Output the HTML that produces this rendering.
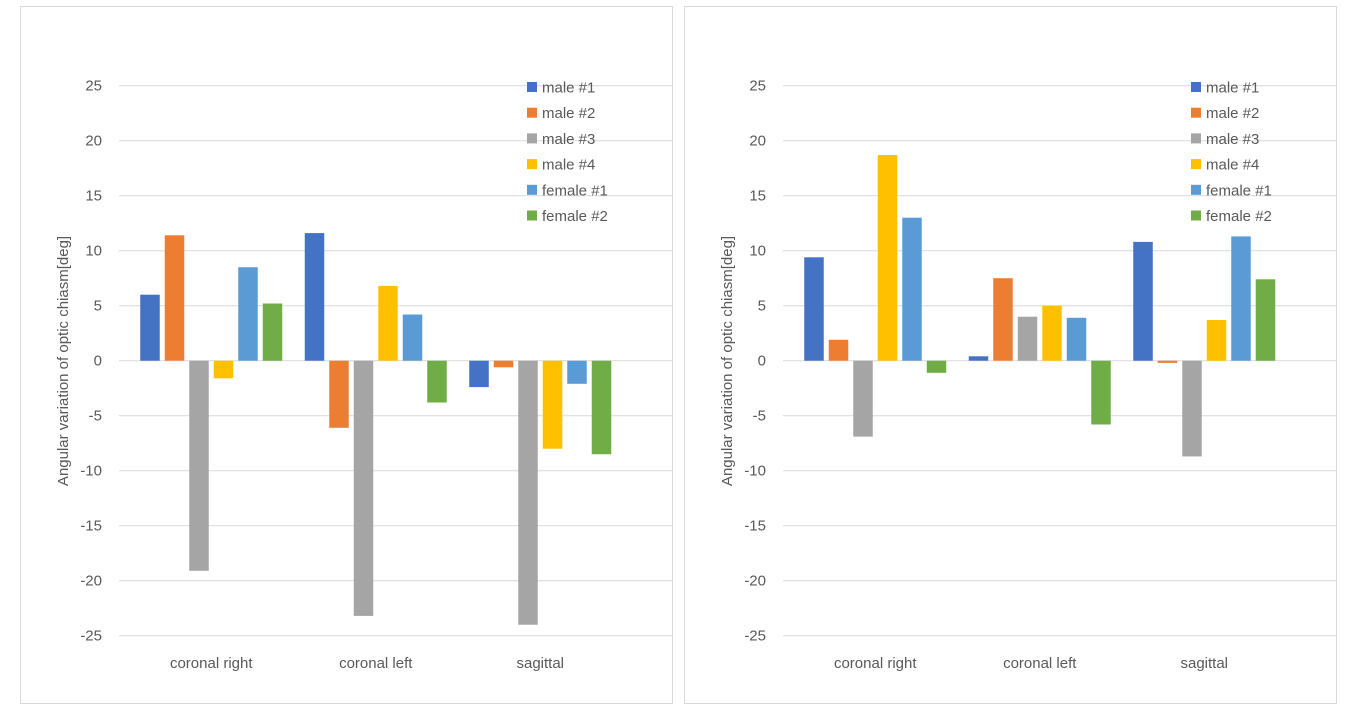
<!DOCTYPE html>
<html><head><meta charset="utf-8"><style>
body{margin:0;background:#fff;width:1365px;height:709px;overflow:hidden;font-family:"Liberation Sans",Calibri,sans-serif}
</style></head><body>
<svg id="svg" width="1365" height="709"></svg>
<script>
const categories = ["coronal right","coronal left","sagittal"];
const seriesNames = ["male #1","male #2","male #3","male #4","female #1","female #2"];
const colors = ["#4472C4","#ED7D31","#A5A5A5","#FFC000","#5B9BD5","#70AD47"];
const yTicks = [25,20,15,10,5,0,-5,-10,-15,-20,-25];
const leftValues = [
  [6.0,11.6,-2.4],
  [11.4,-6.1,-0.6],
  [-19.1,-23.2,-24.0],
  [-1.6,6.8,-8.0],
  [8.5,4.2,-2.1],
  [5.2,-3.8,-8.5]
];
const rightValues = [
  [9.4,0.4,10.8],
  [1.9,7.5,-0.2],
  [-6.9,4.0,-8.7],
  [18.7,5.0,3.7],
  [13.0,3.9,11.3],
  [-1.1,-5.8,7.4]
];
const NS="http://www.w3.org/2000/svg";
const svg=document.getElementById('svg');
function mk(tag,attrs,parent){const e=document.createElementNS(NS,tag);for(const k in attrs)e.setAttribute(k,attrs[k]);(parent||svg).appendChild(e);return e;}
function drawChart(ox,values,name){
  const g=mk('g',{});
  
  
  const frame=mk('rect',{x:ox+20.5,y:6.5,width:652,height:697,fill:'#fff',stroke:'#d9d9d9','stroke-width':1},g);
  
  
  const y=v=>360.7-v*11;
  const gx0=ox+119, gx1=ox+672;
  yTicks.forEach(t=>{
    const l=mk('line',{x1:gx0,x2:gx1,y1:y(t),y2:y(t),stroke:'#d9d9d9','stroke-width':1},g);
    
    
    const tx=mk('text',{x:ox+102,y:y(t)+5,'text-anchor':'end','font-size':15,fill:'#595959'},g);
    tx.textContent=t;
    
    
  });
  const catStart=ox+129, catW=164.5, pitch=24.5, bw=19.5;
  categories.forEach((c,ci)=>{
    const cx=catStart+catW*(ci+0.5);
    const gs=cx-(pitch*6-(pitch-bw))/2;
    values.forEach((s,si)=>{
      const v=s[ci];
      const r=mk('rect',{x:gs+si*pitch,y:Math.min(y(v),y(0)),width:bw,height:Math.abs(y(v)-y(0)),fill:colors[si]},g);
      
      
    });
    const t=mk('text',{x:cx,y:668,'text-anchor':'middle','font-size':15,fill:'#595959'},g);
    t.textContent=c;
    
    
  });
  const at=mk('text',{transform:`translate(${ox+68},361) rotate(-90)`,'text-anchor':'middle','font-size':15,fill:'#595959'},g);
  at.textContent='Angular variation of optic chiasm[deg]';
  
  
  seriesNames.forEach((n,i)=>{
    const ly=87+i*25.7;
    const sq=mk('rect',{x:ox+527,y:ly-5,width:10,height:10,fill:colors[i]},g);
    
    
    const lt=mk('text',{x:ox+542,y:ly+5.5,'font-size':15,fill:'#595959'},g);
    lt.textContent=n;
    
    
  });
}
drawChart(0,leftValues,'left-chart');
drawChart(664,rightValues,'right-chart');
</script>
</body></html>
